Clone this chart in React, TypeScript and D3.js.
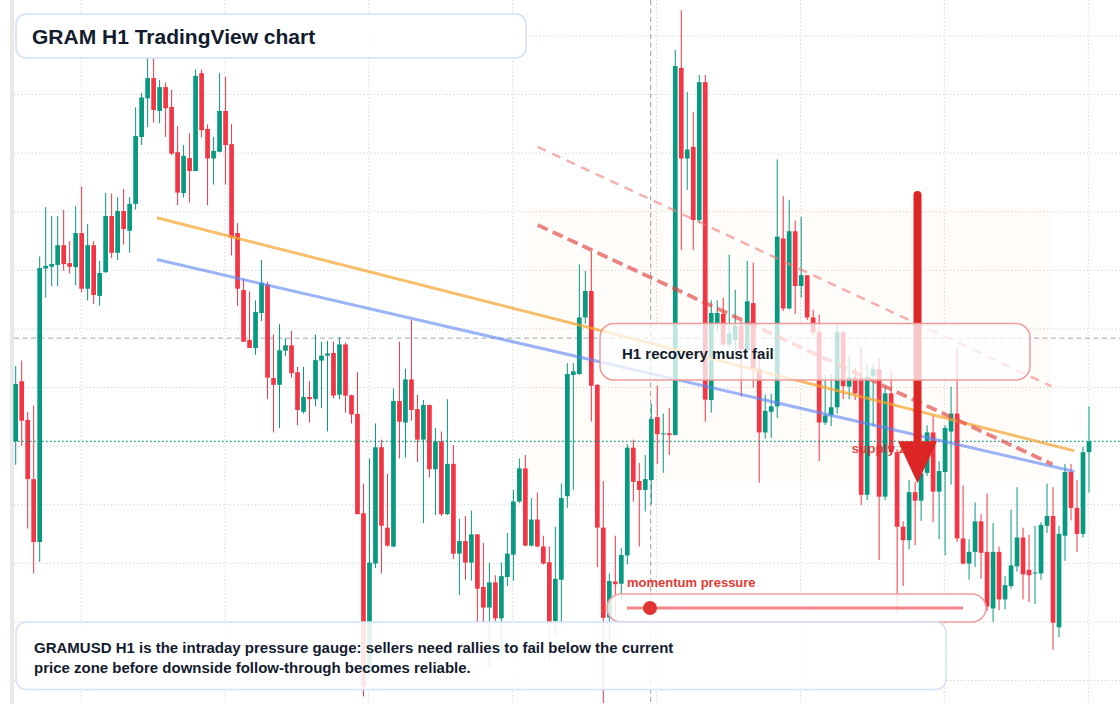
import * as d3 from "d3";

const W = 1120;
const H = 704;
const FONT = "'Liberation Sans', Arial, Helvetica, sans-serif";
const UP = "#089981";
const DOWN = "#f23645";

// hourly bars, [open, high, low, close]
const bars: [number, number, number, number][] = [
  [0.585, 0.753, 0.533, 0.713], [0.719, 0.765, 0.575, 0.631], [0.633, 0.651, 0.391, 0.501],
  [0.501, 0.665, 0.291, 0.361], [0.361, 0.997, 0.317, 0.971], [0.970, 1.107, 0.905, 0.976],
  [0.974, 1.087, 0.931, 0.980], [0.978, 1.087, 0.931, 1.022], [1.022, 1.101, 0.965, 0.980],
  [0.982, 1.031, 0.959, 0.974], [0.973, 1.109, 0.933, 1.049], [1.049, 1.153, 0.917, 0.925],
  [0.925, 1.069, 0.899, 1.022], [1.022, 1.031, 0.891, 0.911], [0.909, 0.987, 0.887, 0.960],
  [0.962, 1.139, 0.960, 1.087], [1.087, 1.137, 0.993, 1.005], [1.005, 1.129, 0.989, 1.098],
  [1.098, 1.147, 1.023, 1.058], [1.054, 1.129, 1.005, 1.114], [1.114, 1.329, 1.101, 1.265],
  [1.263, 1.361, 1.245, 1.351], [1.349, 1.439, 1.285, 1.394], [1.394, 1.437, 1.295, 1.323],
  [1.321, 1.390, 1.293, 1.374], [1.374, 1.384, 1.263, 1.327], [1.330, 1.368, 1.223, 1.226],
  [1.229, 1.287, 1.111, 1.139], [1.138, 1.245, 1.128, 1.221], [1.216, 1.271, 1.117, 1.187],
  [1.187, 1.413, 1.187, 1.399], [1.405, 1.413, 1.262, 1.278], [1.281, 1.291, 1.111, 1.215],
  [1.215, 1.263, 1.157, 1.232], [1.230, 1.405, 1.229, 1.321], [1.321, 1.397, 1.157, 1.245],
  [1.247, 1.292, 0.999, 1.039], [1.049, 1.071, 0.887, 0.925], [0.922, 0.947, 0.807, 0.807],
  [0.811, 0.919, 0.793, 0.793], [0.793, 0.899, 0.778, 0.873], [0.871, 0.989, 0.853, 0.938],
  [0.934, 0.941, 0.679, 0.727], [0.726, 0.823, 0.605, 0.711], [0.711, 0.846, 0.615, 0.788],
  [0.787, 0.815, 0.775, 0.799], [0.799, 0.831, 0.727, 0.737], [0.739, 0.751, 0.621, 0.655],
  [0.651, 0.751, 0.647, 0.684], [0.684, 0.719, 0.627, 0.679], [0.679, 0.823, 0.663, 0.766],
  [0.765, 0.807, 0.659, 0.776], [0.776, 0.809, 0.607, 0.781], [0.782, 0.807, 0.681, 0.687],
  [0.689, 0.817, 0.679, 0.801], [0.801, 0.805, 0.649, 0.687], [0.688, 0.689, 0.625, 0.645],
  [0.646, 0.739, 0.423, 0.423], [0.425, 0.491, 0.017, 0.039], [0.069, 0.547, 0.060, 0.315],
  [0.313, 0.625, 0.303, 0.572], [0.572, 0.589, 0.291, 0.397], [0.393, 0.513, 0.351, 0.353],
  [0.351, 0.703, 0.349, 0.675], [0.675, 0.807, 0.547, 0.629], [0.627, 0.747, 0.549, 0.723],
  [0.723, 0.855, 0.631, 0.655], [0.657, 0.689, 0.539, 0.589], [0.589, 0.677, 0.403, 0.666],
  [0.666, 0.667, 0.505, 0.523], [0.523, 0.615, 0.421, 0.585], [0.585, 0.607, 0.419, 0.423],
  [0.423, 0.679, 0.421, 0.535], [0.535, 0.577, 0.323, 0.335], [0.335, 0.413, 0.243, 0.363],
  [0.363, 0.419, 0.277, 0.315], [0.315, 0.431, 0.275, 0.378], [0.378, 0.379, 0.181, 0.257],
  [0.261, 0.359, 0.183, 0.215], [0.215, 0.315, 0.080, 0.271], [0.271, 0.287, 0.185, 0.191],
  [0.191, 0.315, 0.100, 0.285], [0.283, 0.381, 0.263, 0.335], [0.333, 0.477, 0.275, 0.451],
  [0.451, 0.547, 0.448, 0.525], [0.525, 0.555, 0.351, 0.353], [0.353, 0.459, 0.351, 0.411],
  [0.411, 0.471, 0.349, 0.351], [0.351, 0.375, 0.311, 0.313], [0.316, 0.351, 0.098, 0.180],
  [0.185, 0.395, 0.155, 0.279], [0.277, 0.491, 0.177, 0.459], [0.463, 0.759, 0.437, 0.735],
  [0.733, 0.759, 0.477, 0.741], [0.735, 0.979, 0.733, 0.861], [0.861, 0.965, 0.847, 0.920],
  [0.920, 1.007, 0.629, 0.709], [0.711, 0.713, 0.305, 0.393], [0.393, 0.497, 0.002, 0.192],
  [0.193, 0.291, 0.143, 0.274], [0.273, 0.375, 0.193, 0.267], [0.268, 0.347, 0.231, 0.332],
  [0.331, 0.579, 0.311, 0.571], [0.571, 0.589, 0.451, 0.495], [0.497, 0.537, 0.351, 0.477],
  [0.477, 0.555, 0.429, 0.501], [0.499, 0.669, 0.445, 0.635], [0.639, 0.709, 0.535, 0.601],
  [0.601, 0.647, 0.515, 0.603], [0.603, 0.659, 0.555, 0.599], [0.599, 1.457, 0.599, 1.421],
  [1.417, 1.545, 1.011, 1.215], [1.215, 1.363, 1.145, 1.235], [1.241, 1.319, 1.011, 1.078],
  [1.078, 1.401, 1.071, 1.385], [1.385, 1.401, 0.629, 0.678], [0.677, 0.899, 0.649, 0.871],
  [0.847, 0.899, 0.833, 0.871], [0.869, 0.905, 0.797, 0.801], [0.801, 1.001, 0.793, 0.825],
  [0.811, 0.923, 0.787, 0.843], [0.843, 0.853, 0.685, 0.791], [0.789, 0.987, 0.785, 0.897],
  [0.893, 0.983, 0.705, 0.747], [0.747, 0.781, 0.493, 0.605], [0.605, 0.689, 0.591, 0.653],
  [0.651, 0.691, 0.593, 0.663], [0.663, 1.213, 0.637, 1.041], [1.037, 1.131, 0.875, 0.881],
  [0.881, 1.123, 0.879, 1.053], [1.053, 1.077, 0.869, 0.931], [0.931, 1.085, 0.905, 0.955],
  [0.955, 0.955, 0.855, 0.861], [0.861, 0.878, 0.822, 0.828], [0.829, 0.867, 0.541, 0.627],
  [0.627, 0.733, 0.621, 0.643], [0.643, 0.735, 0.619, 0.661], [0.661, 0.843, 0.647, 0.829],
  [0.828, 0.830, 0.679, 0.708], [0.707, 0.777, 0.679, 0.728], [0.728, 0.748, 0.677, 0.692],
  [0.728, 0.796, 0.443, 0.466], [0.466, 0.755, 0.454, 0.728], [0.731, 0.755, 0.619, 0.746],
  [0.746, 0.770, 0.321, 0.462], [0.462, 0.707, 0.454, 0.692], [0.692, 0.745, 0.555, 0.561],
  [0.561, 0.568, 0.203, 0.395], [0.395, 0.407, 0.263, 0.365], [0.365, 0.499, 0.345, 0.472],
  [0.472, 0.495, 0.354, 0.453], [0.453, 0.547, 0.408, 0.514], [0.515, 0.621, 0.508, 0.605],
  [0.605, 0.643, 0.405, 0.473], [0.473, 0.541, 0.367, 0.519], [0.517, 0.621, 0.331, 0.615],
  [0.607, 0.707, 0.489, 0.647], [0.647, 0.793, 0.361, 0.369], [0.369, 0.487, 0.311, 0.313],
  [0.313, 0.367, 0.277, 0.339], [0.339, 0.449, 0.305, 0.407], [0.407, 0.423, 0.279, 0.337],
  [0.339, 0.469, 0.207, 0.217], [0.213, 0.403, 0.183, 0.339], [0.339, 0.351, 0.209, 0.233],
  [0.233, 0.285, 0.211, 0.265], [0.263, 0.433, 0.257, 0.309], [0.307, 0.483, 0.295, 0.371],
  [0.371, 0.393, 0.233, 0.289], [0.299, 0.377, 0.227, 0.287], [0.291, 0.397, 0.223, 0.293],
  [0.291, 0.405, 0.277, 0.399], [0.397, 0.491, 0.381, 0.419], [0.419, 0.483, 0.121, 0.181],
  [0.171, 0.397, 0.149, 0.379], [0.375, 0.535, 0.319, 0.517], [0.517, 0.535, 0.409, 0.437],
  [0.437, 0.499, 0.339, 0.379], [0.379, 0.573, 0.371, 0.561], [0.561, 0.663, 0.471, 0.585],
];

// bar index of each daily grid line, price of each horizontal grid line
const dayLines = d3.range(8).map((k) => 10.88 + 24 * k);
const priceLines = d3.range(12).map((k) => 1.488 - 0.1305 * k);

// drawn trend lines: [bar, price] -> [bar, price]
const trendLines = [
  { from: [23.55, 1.083], to: [176.55, 0.564], color: "#f6a531", width: 3, opacity: 0.72, dash: "none" },
  { from: [23.55, 0.99], to: [176.55, 0.518], color: "#5d86f3", width: 3, opacity: 0.62, dash: "none" },
  { from: [87.05, 1.241], to: [172.7, 0.708], color: "#f07f7f", width: 2.5, opacity: 0.62, dash: "9 7" },
  { from: [87.05, 1.067], to: [172.9, 0.534], color: "#e04444", width: 3.8, opacity: 0.66, dash: "11 5.5" },
];

const supplyZone = { from: 85.2, to: 172.7, top: 1.105, bottom: 0.495 };
const crosshair = { bar: 105.9, price: 0.815 };
const downArrow = { bar: 150.4, from: 1.134, to: 0.492 };
const supplyLabel = { bar: 139.4, price: 0.57, text: "supply zone" };

const title = "GRAM H1 TradingView chart";
const note = "H1 recovery must fail";
const gaugeLabel = "momentum pressure";
const caption = [
  "GRAMUSD H1 is the intraday pressure gauge: sellers need rallies to fail below the current",
  "price zone before downside follow-through becomes reliable.",
];

export default function App() {
  const x = d3.scaleLinear().domain([0, bars.length - 1]).range([15.7, 1089]);
  const y = d3.scaleLinear().domain([0, 1.568]).range([704.1, 0]);
  const bodyW = 4.7;
  const last = bars[bars.length - 1][3];

  const ax = x(downArrow.bar);
  const aTop = y(downArrow.from);
  const aTip = y(downArrow.to);
  const headLen = 42;
  const headHalf = 19.5;

  return (
    <div style={{ position: "absolute", left: 0, top: 0 }}>
      <svg width={W} height={H} style={{ display: "block", fontFamily: FONT }}>
        <rect width={W} height={H} fill="#ffffff" />
        <rect x={10} y={0} width={4} height={H} fill="#e9e9ea" />

        {/* grid */}
        {priceLines.map((p) => (
          <line key={"h" + p} x1={14} x2={W} y1={y(p)} y2={y(p)} stroke="#cfd2d6" strokeDasharray="1.2 2.4" />
        ))}
        {dayLines.map((b) => (
          <line key={"v" + b} x1={x(b)} x2={x(b)} y1={0} y2={H} stroke="#cfd2d6" strokeDasharray="1.2 2.4" />
        ))}

        {/* supply zone shade */}
        <rect
          x={x(supplyZone.from)}
          y={y(supplyZone.top)}
          width={x(supplyZone.to) - x(supplyZone.from)}
          height={y(supplyZone.bottom) - y(supplyZone.top)}
          fill="#f5a35b"
          opacity={0.035}
        />

        {/* crosshair */}
        <line x1={x(crosshair.bar)} x2={x(crosshair.bar)} y1={0} y2={H} stroke="#9a9ea4" strokeDasharray="5 3.5" />
        <line x1={14} x2={W} y1={y(crosshair.price)} y2={y(crosshair.price)} stroke="#a3a7ad" strokeDasharray="5 3.5" />

        {/* candles */}
        {bars.map(([o, h, l, c], i) => {
          const col = c >= o ? UP : DOWN;
          const top = y(Math.max(o, c));
          const bh = Math.max(1, Math.abs(y(o) - y(c)));
          return (
            <g key={i}>
              <line x1={x(i)} x2={x(i)} y1={y(h)} y2={y(l)} stroke={col} strokeWidth={1} />
              <rect x={x(i) - bodyW / 2} y={top} width={bodyW} height={bh} fill={col} />
            </g>
          );
        })}

        {/* last price line */}
        <line x1={14} x2={W} y1={y(last)} y2={y(last)} stroke="#089981" strokeDasharray="1.6 2.4" strokeWidth={1.2} />

        {/* trend lines */}
        {trendLines.map((t, k) => (
          <line
            key={k}
            x1={x(t.from[0])}
            y1={y(t.from[1])}
            x2={x(t.to[0])}
            y2={y(t.to[1])}
            stroke={t.color}
            strokeWidth={t.width}
            strokeOpacity={t.opacity}
            strokeDasharray={t.dash}
          />
        ))}

        <text
          x={x(supplyLabel.bar)}
          y={y(supplyLabel.price) + 5}
          fontSize={13.5}
          fontWeight={700}
          fill="#dc2626"
          opacity={0.8}
        >
          {supplyLabel.text}
        </text>

        {/* down arrow */}
        <line x1={ax} x2={ax} y1={aTop} y2={aTip - headLen + 2} stroke="#dc2626" strokeWidth={8} strokeLinecap="round" />
        <path
          d={`M${ax - headHalf},${aTip - headLen} L${ax + headHalf},${aTip - headLen} L${ax},${aTip} Z`}
          fill="#dc2626"
        />

        {/* note box */}
        <rect x={600} y={323.5} width={430} height={56.5} rx={14} fill="#ffffff" fillOpacity={0.74} stroke="#ef9a9a" strokeWidth={1.5} />
        <text x={622} y={358.5} fontSize={15} fontWeight={700} fill="#131b2e">
          {note}
        </text>

        {/* title */}
        <rect x={16} y={14} width={510} height={44} rx={10} fill="#ffffff" fillOpacity={0.92} stroke="#cfdff6" strokeWidth={1.5} />
        <text x={32} y={43.5} fontSize={21} fontWeight={700} fill="#131b2e">
          {title}
        </text>

        {/* momentum gauge */}
        <text x={627} y={586.5} fontSize={13} fontWeight={700} fill="#e53935">
          {gaugeLabel}
        </text>
        <rect x={607} y={594} width={379} height={28} rx={14} fill="#ffffff" fillOpacity={0.82} stroke="#f0a0a0" strokeWidth={1.5} />
        <line x1={627} x2={963} y1={608} y2={608} stroke="#ec7474" strokeWidth={3} strokeOpacity={0.85} />
        <circle cx={650} cy={608} r={7} fill="#e03535" />

        {/* caption */}
        <rect x={16} y={622} width={930} height={67.5} rx={10} fill="#ffffff" fillOpacity={0.88} stroke="#d3e2f7" strokeWidth={1.5} />
        {caption.map((line, k) => (
          <text key={k} x={34} y={652.5 + k * 20} fontSize={15} fontWeight={700} fill="#131b2e">
            {line}
          </text>
        ))}
      </svg>
    </div>
  );
}
